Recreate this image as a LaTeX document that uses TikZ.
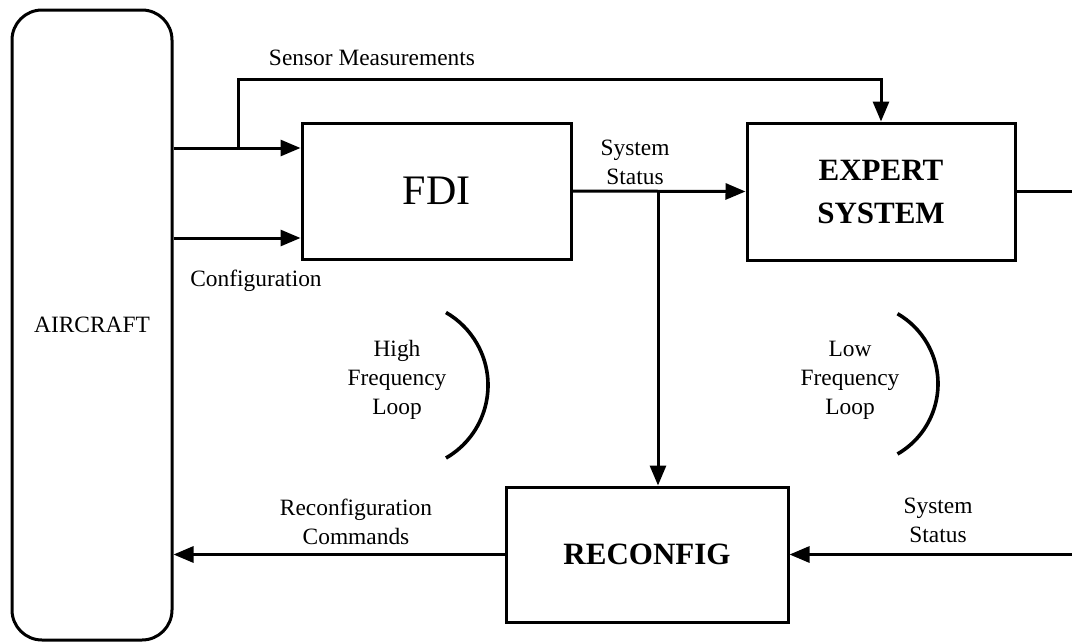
\documentclass[tikz,border=0pt]{standalone}
\usepackage{fontspec}
\setmainfont{Liberation Serif}
\usetikzlibrary{arrows.meta}
\tikzset{
  blk/.style={draw, line width=1.5pt, inner sep=0pt, align=center},
  conn/.style={line width=1.5pt},
  arr/.style={conn, -{Triangle[length=10pt,width=8pt]}},
  lbl/.style={font=\fontsize{11.7}{14.5}\selectfont, align=center, inner sep=0pt},
  loop/.style={line width=1.8pt},
}
\begin{document}
\begin{tikzpicture}[x=0.5pt,y=-0.5pt]
\useasboundingbox (0,0) rectangle (1072,643);
% blocks
\node[blk, rounded corners=15pt, minimum width=80pt, minimum height=315pt,
      font=\fontsize{11.7}{14}\selectfont] (aircraft) at (92,325) {AIRCRAFT};
\node[blk, minimum width=134.5pt, minimum height=68pt,
      font=\fontsize{21}{24}\selectfont] (fdi) at (436.5,191) {FDI};
\node[blk, minimum width=134pt, minimum height=68.5pt,
      font=\fontsize{15.5}{21.5}\selectfont\bfseries] (expert) at (881,191.5) {EXPERT\\SYSTEM};
\node[blk, minimum width=141pt, minimum height=67.5pt,
      font=\fontsize{15.5}{18}\selectfont\bfseries] (reconfig) at (647,554.5) {RECONFIG};
% helper coordinates
\coordinate (ya) at (0,148);
\coordinate (yb) at (0,238);
\coordinate (tap) at (238,148);
\coordinate (topc) at (238,79);
\coordinate (br) at (658,191);
\coordinate (redge) at (1072,0);
% connectors
\draw[arr] (aircraft.east |- ya) -- (fdi.west |- ya);
\draw[arr] (aircraft.east |- yb) -- (fdi.west |- yb);
\draw[arr] (tap) -- (topc) -| (expert.north);
\draw[arr] (fdi.east) -- (expert.west);
\draw[arr] (br) -- (br |- reconfig.north);
\draw[arr] (reconfig.west) -- (aircraft.east |- reconfig.west);
\draw[conn] (expert.east) -- (expert.east -| redge);
\draw[arr] (reconfig.east -| redge) -- (reconfig.east);
% loop arcs
\draw[loop] (446,458) arc[start angle=60, end angle=-60, radius=84];
\draw[loop] (897.5,454) arc[start angle=60, end angle=-60, radius=81];
% labels
\node[lbl] (lsensor) at (372,58) {Sensor Measurements};
\node[lbl] (lstatus1) at (635,162) {System\\Status};
\node[lbl] (lconfig) at (256,281) {Configuration};
\node[lbl] (lhigh) at (397,380) {High\\Frequency\\Loop};
\node[lbl] (llow) at (850,380) {Low\\Frequency\\Loop};
\node[lbl] (lreconf) at (356,522) {Reconfiguration\\Commands};
\node[lbl] (lstatus2) at (938,520) {System\\Status};
\end{tikzpicture}
\end{document}
